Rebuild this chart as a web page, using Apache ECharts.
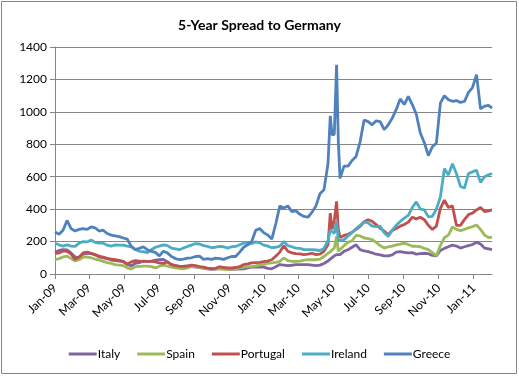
<!DOCTYPE html>
<html>
<head>
<meta charset="utf-8">
<script src="https://cdn.jsdelivr.net/npm/echarts@6/dist/echarts.min.js"></script>
<style>
  html, body { margin: 0; padding: 0; background: #fff; }
</style>
</head>
<body>
<div id="MyChart" style="width: 519px;height:376px;"></div>
<script>
// weekly observations (a few extra days around the May 2010 spike)
const dates = [
  '2009-01-01','2009-01-08','2009-01-15','2009-01-22','2009-01-29','2009-02-05','2009-02-12','2009-02-19','2009-02-26','2009-03-05',
  '2009-03-12','2009-03-19','2009-03-26','2009-04-02','2009-04-09','2009-04-16','2009-04-23','2009-04-30','2009-05-07','2009-05-14',
  '2009-05-21','2009-05-28','2009-06-04','2009-06-11','2009-06-18','2009-06-25','2009-07-02','2009-07-09','2009-07-16','2009-07-23',
  '2009-07-30','2009-08-06','2009-08-13','2009-08-20','2009-08-27','2009-09-03','2009-09-10','2009-09-17','2009-09-24','2009-10-01',
  '2009-10-08','2009-10-15','2009-10-22','2009-10-29','2009-11-05','2009-11-12','2009-11-19','2009-11-26','2009-12-03','2009-12-10',
  '2009-12-17','2009-12-24','2009-12-31','2010-01-07','2010-01-14','2010-01-21','2010-01-28','2010-02-04','2010-02-11','2010-02-18',
  '2010-02-25','2010-03-04','2010-03-11','2010-03-18','2010-03-25','2010-04-01','2010-04-08','2010-04-15','2010-04-22','2010-04-26',
  '2010-04-29','2010-05-03','2010-05-07','2010-05-10','2010-05-13','2010-05-20','2010-05-27','2010-06-03','2010-06-10','2010-06-17',
  '2010-06-24','2010-07-01','2010-07-08','2010-07-15','2010-07-22','2010-07-29','2010-08-05','2010-08-12','2010-08-19','2010-08-26',
  '2010-09-02','2010-09-09','2010-09-16','2010-09-23','2010-09-30','2010-10-07','2010-10-14','2010-10-21','2010-10-28','2010-11-04',
  '2010-11-11','2010-11-18','2010-11-25','2010-12-02','2010-12-09','2010-12-16','2010-12-23','2010-12-30','2011-01-06','2011-01-13',
  '2011-01-20','2011-01-27','2011-02-02'
]

const italy = [
  135,145,150,148,130,105,100,122,128,125,
  120,105,100,95,86,82,80,76,60,50,
  66,70,80,78,80,85,88,90,75,58,
  52,47,48,50,45,42,40,37,32,28,
  30,36,34,30,28,30,30,32,38,43,
  43,43,42,35,32,45,58,55,52,54,
  58,58,58,58,55,52,55,65,80,92,
  100,112,119,118,120,140,150,165,180,150,
  142,138,130,122,118,112,112,118,135,138,
  134,130,132,122,125,128,125,115,112,145,
  158,168,178,172,160,168,175,182,195,185,
  160,155,150
]

const spain = [
  88,95,105,110,95,80,88,104,105,100,
  92,85,78,70,65,58,55,52,38,30,
  45,47,49,48,45,38,48,55,48,42,
  38,34,32,38,45,45,40,36,35,33,
  31,30,28,27,30,32,38,43,45,47,
  50,56,60,65,68,72,78,99,82,78,
  78,80,85,88,88,88,92,108,128,138,
  140,160,232,140,150,175,195,205,238,235,
  222,218,212,195,175,160,168,172,180,184,
  190,182,171,171,168,158,150,132,112,175,
  225,240,290,275,268,275,285,292,302,275,
  240,225,228
]

const portugal = [
  125,130,142,140,122,90,105,130,135,128,
  118,110,104,96,92,88,84,78,60,75,
  82,80,78,78,78,75,68,65,75,58,
  52,47,47,48,55,52,46,42,36,33,
  35,45,40,37,37,40,45,58,62,68,
  70,72,76,80,88,110,135,175,140,130,
  126,124,120,122,128,120,122,140,180,376,
  275,330,448,275,225,238,245,258,275,294,
  322,335,325,305,282,265,242,268,280,295,
  305,320,350,340,350,335,300,275,295,405,
  455,410,420,300,300,335,366,376,395,410,
  385,390,395
]

const ireland = [
  190,180,172,180,172,170,190,200,198,210,
  195,190,190,178,172,180,178,178,172,168,
  152,140,138,132,150,165,172,180,175,160,
  155,150,160,170,178,188,185,175,170,162,
  165,170,168,160,168,170,180,190,190,188,
  198,192,178,172,162,165,172,200,175,168,
  160,158,150,150,150,148,145,158,205,270,
  260,250,324,205,200,212,235,255,280,300,
  322,315,295,292,295,255,232,270,300,324,
  345,362,410,445,400,395,352,355,400,475,
  650,610,680,620,540,530,620,630,640,565,
  600,612,620
]

const greece = [
  260,245,270,330,280,265,275,280,275,290,
  285,265,270,250,240,235,230,222,215,170,
  150,158,168,150,140,133,112,140,130,108,
  95,88,92,98,100,108,110,90,95,90,
  98,95,90,100,108,108,135,165,180,200,
  270,280,255,240,215,310,420,407,420,385,
  390,368,355,350,380,420,495,519,680,975,
  860,860,1290,820,590,665,665,700,725,815,
  950,940,920,945,940,890,920,960,1015,1080,
  1045,1095,1045,985,870,810,730,785,807,1054,
  1100,1075,1065,1070,1058,1064,1120,1150,1230,1018,
  1035,1040,1023
]

const seriesNames = ['Italy', 'Spain', 'Portugal', 'Ireland', 'Greece']
const seriesColors = ['#8064A2', '#9BBB59', '#C0504D', '#4BACC6', '#4F81BD']
const seriesValues = [italy, spain, portugal, ireland, greece]

// tick marks / labels every two months
const tickMonths = [
  [2009, 0], [2009, 2], [2009, 4], [2009, 6], [2009, 8], [2009, 10],
  [2010, 0], [2010, 2], [2010, 4], [2010, 6], [2010, 8], [2010, 10], [2011, 0]
]
const monthNames = ['Jan','Feb','Mar','Apr','May','Jun','Jul','Aug','Sep','Oct','Nov','Dec']

function toTime (s) {
  const p = s.split('-')
  return new Date(+p[0], +p[1] - 1, +p[2]).getTime()
}

const tickValues = tickMonths.map(m => new Date(m[0], m[1], 1).getTime())
const font = 'Lato, "Liberation Sans", sans-serif'

let myChart = echarts.init(document.getElementById('MyChart'), null, { renderer: 'canvas' })
let option = {
  animation: false,
  backgroundColor: '#fff',
  title: {
    text: '5-Year Spread to Germany',
    left: 'center',
    top: 13,
    textStyle: { fontFamily: font, fontSize: 14, fontWeight: 'bold', color: '#000' }
  },
  graphic: [{
    type: 'rect',
    shape: { x: 1.5, y: 1.5, width: 515, height: 372 },
    style: { fill: 'none', stroke: '#868686', lineWidth: 1 },
    silent: true
  }],
  legend: {
    left: 'center',
    top: 348,
    icon: 'rect',
    itemWidth: 28,
    itemHeight: 3,
    itemGap: 17,
    padding: 0,
    textStyle: { fontFamily: font, fontSize: 12, color: '#000', padding: [0, 0, 0, -4] },
    data: seriesNames
  },
  grid: { left: 55, right: 27, top: 47, bottom: 102 },
  xAxis: {
    type: 'value',
    min: toTime(dates[0]),
    max: toTime(dates[dates.length - 1]),
    axisLine: { lineStyle: { color: '#868686', width: 1 } },
    axisTick: { show: true, length: 5, customValues: tickValues, lineStyle: { color: '#868686' } },
    splitLine: { show: false },
    axisLabel: {
      customValues: tickValues,
      rotate: 45,
      margin: 12,
      fontFamily: font,
      fontSize: 12,
      color: '#000',
      formatter: function (v) {
        const d = new Date(v)
        return monthNames[d.getMonth()] + '-' + String(d.getFullYear()).slice(2)
      }
    }
  },
  yAxis: {
    type: 'value',
    min: 0,
    max: 1400,
    interval: 200,
    axisLine: { show: true, lineStyle: { color: '#868686' } },
    axisTick: { show: true, length: 5, lineStyle: { color: '#868686' } },
    splitLine: { lineStyle: { color: '#868686', width: 1 } },
    axisLabel: { fontFamily: font, fontSize: 12, color: '#000', margin: 8, formatter: v => String(v) }
  },
  series: seriesNames.map((name, k) => ({
    name: name,
    type: 'line',
    showSymbol: false,
    symbol: 'none',
    color: seriesColors[k],
    lineStyle: { width: 2.8, color: seriesColors[k] },
    data: dates.map((d, i) => [toTime(d), seriesValues[k][i]])
  }))
}
myChart.setOption(option)
</script>
</body>
</html>
